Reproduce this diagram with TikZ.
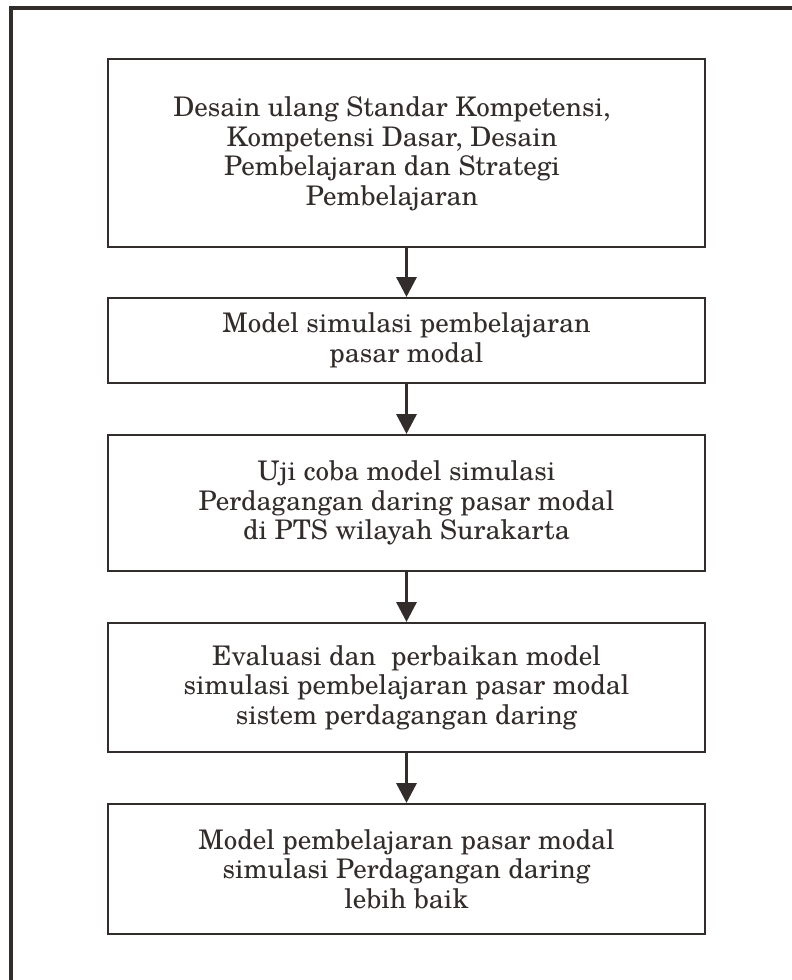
\documentclass[tikz,border=0pt]{standalone}
\usepackage{fontspec}
\setmainfont{TeX Gyre Schola}
\usetikzlibrary{arrows.meta}
\definecolor{ink}{RGB}{50,44,42}
\tikzset{
  stepbox/.style={draw=ink, line width=2pt, minimum width=597pt, align=center,
    text=ink, inner sep=0pt, font=\fontsize{27}{29.5}\selectfont},
  steptext/.style={align=center, text=ink, inner sep=0pt, font=\fontsize{27}{29.5}\selectfont},
  flowarrow/.style={draw=ink, line width=3.3pt, -{Triangle[width=20pt,length=20pt]}},
  framebar/.style={draw=ink, line width=4pt}
}
\begin{document}
\begin{tikzpicture}[x=1pt,y=-1pt]
\useasboundingbox (0,0) rectangle (792,980);
\draw[framebar] (11,990) -- (11,8) -- (800,8);
\node[stepbox, minimum height=188pt] (b1) at (406.5,152.5) {};
\node[steptext] (b1t) at (392,154)
  {Desain ulang Standar Kompetensi,\\Kompetensi Dasar, Desain\\Pembelajaran dan Strategi\\Pembelajaran};
\node[stepbox, minimum height=85pt] (b2) at (406.5,340.5)
  {Model simulasi pembelajaran\\pasar modal};
\node[stepbox, minimum height=136pt] (b3) at (406.5,503)
  {Uji coba model simulasi\\Perdagangan daring pasar modal\\di PTS wilayah Surakarta};
\node[stepbox, minimum height=129pt] (b4) at (406.5,687.5)
  {Evaluasi dan~ perbaikan model\\simulasi pembelajaran pasar modal\\sistem perdagangan daring};
\node[stepbox, minimum height=130pt] (b5) at (406.5,869)
  {Model pembelajaran pasar modal\\simulasi Perdagangan daring\\lebih baik};
\draw[flowarrow] (b1.south) -- (b2.north);
\draw[flowarrow] (b2.south) -- (b3.north);
\draw[flowarrow] (b3.south) -- (b4.north);
\draw[flowarrow] (b4.south) -- (b5.north);
\end{tikzpicture}
\end{document}
